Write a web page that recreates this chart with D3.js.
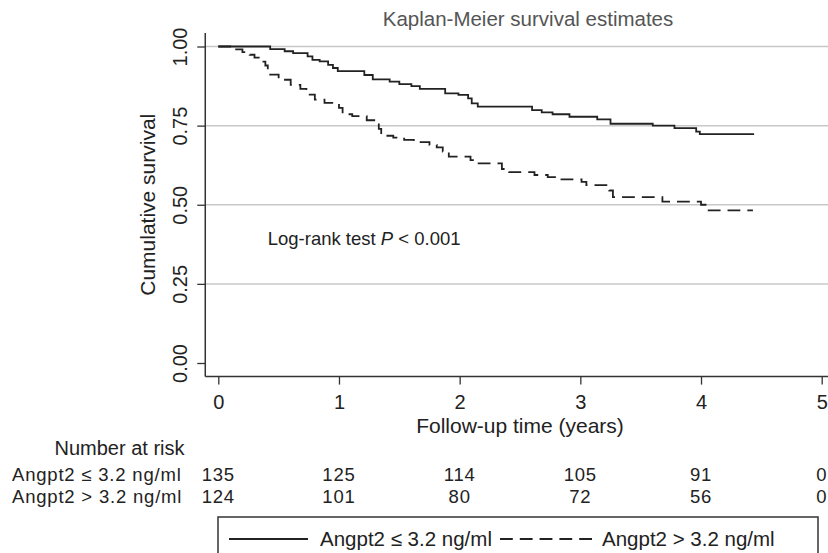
<!DOCTYPE html>
<html>
<head>
<meta charset="utf-8">
<script src="https://cdn.jsdelivr.net/npm/d3@7"></script>
<style>
  body { margin: 0; background: #fff; }
  text { font-family: "Liberation Sans", Arial, sans-serif; fill: #222; }
</style>
</head>
<body>
<div id="chart"></div>
<script>
// follow-up time (years) and survival for each group
const lowTime = [0,0.43,0.55,0.62,0.74,0.78,0.84,0.91,0.95,0.99,1.21,1.28,1.42,1.50,1.60,1.67,1.88,1.99,2.07,2.10,2.15,2.60,2.68,2.77,2.91,3.14,3.25,3.60,3.78,3.96,3.99,4.44];
const lowSurv = [1,0.992,0.985,0.979,0.969,0.958,0.953,0.942,0.932,0.922,0.91,0.896,0.889,0.881,0.875,0.866,0.852,0.847,0.836,0.820,0.81,0.799,0.792,0.786,0.778,0.77,0.756,0.75,0.742,0.731,0.723,0.723];

const highTime = [0,0.14,0.20,0.26,0.30,0.36,0.39,0.41,0.43,0.50,0.60,0.68,0.73,0.80,0.88,1.00,1.03,1.11,1.23,1.33,1.35,1.45,1.54,1.62,1.75,1.81,1.86,1.91,2.09,2.11,2.35,2.41,2.62,2.73,2.79,3.01,3.05,3.24,3.27,3.68,4.00,4.05,4.43];
const highSurv = [1,0.991,0.982,0.974,0.965,0.952,0.940,0.927,0.911,0.895,0.879,0.866,0.848,0.832,0.822,0.806,0.786,0.780,0.767,0.74,0.718,0.712,0.705,0.698,0.689,0.681,0.668,0.652,0.641,0.631,0.613,0.603,0.594,0.587,0.580,0.572,0.562,0.545,0.524,0.510,0.500,0.482,0.482];

const groupLabels = ["Angpt2 \u2264 3.2 ng/ml", "Angpt2 > 3.2 ng/ml"];
const riskTimes = [0, 1, 2, 3, 4, 5];
const riskLow = [135, 125, 114, 105, 91, 0];
const riskHigh = [124, 101, 80, 72, 56, 0];
const yTicks = [0, 0.25, 0.5, 0.75, 1];
const xTicks = [0, 1, 2, 3, 4, 5];

const W = 828, H = 553;

const svg = d3.select("#chart").append("svg")
	.attr("width", W)
	.attr("height", H);

const x = d3.scaleLinear().domain([0, 5]).range([218.3, 821.7]);
const y = d3.scaleLinear().domain([0, 1]).range([363, 46.5]);

const axisX = x(-0.108);   // where the y axis sits
const axisY = y(-0.043);   // where the x axis sits

// title
svg.append("text")
	.attr("x", 528).attr("y", 26)
	.attr("text-anchor", "middle")
	.style("font-size", "20.5px")
	.style("fill", "#555")
	.text("Kaplan-Meier survival estimates");

// grid lines
svg.append("g").selectAll("line")
	.data(yTicks.filter(d => d > 0))
	.join("line")
	.attr("x1", axisX).attr("x2", W)
	.attr("y1", d => y(d)).attr("y2", d => y(d))
	.attr("stroke", "#c8c8c8")
	.attr("stroke-width", 1.5);

// y axis
const yAxisG = svg.append("g")
	.attr("transform", `translate(${axisX},0)`)
	.call(d3.axisLeft(y).tickValues(yTicks).tickFormat(d3.format(".2f")).tickSize(8).tickSizeOuter(0));
yAxisG.select(".domain").remove();
yAxisG.selectAll(".tick line").attr("stroke", "#333").attr("stroke-width", 1.3);
yAxisG.selectAll(".tick text")
	.attr("transform", "rotate(-90)")
	.attr("x", 0).attr("y", -18).attr("dy", 0)
	.attr("text-anchor", "middle")
	.style("font-size", "20px")
	.style("font-family", "'Liberation Sans', Arial, sans-serif")
	.attr("fill", "#222");

// x axis
const xAxisG = svg.append("g")
	.attr("transform", `translate(0,${axisY})`)
	.call(d3.axisBottom(x).tickValues(xTicks).tickFormat(d3.format("d")).tickSize(8).tickSizeOuter(0));
xAxisG.select(".domain").remove();
xAxisG.selectAll(".tick line").attr("stroke", "#333").attr("stroke-width", 1.3);
xAxisG.selectAll(".tick text")
	.attr("y", 32).attr("dy", 0)
	.style("font-size", "20px")
	.style("font-family", "'Liberation Sans', Arial, sans-serif")
	.attr("fill", "#222");

// axis lines
svg.append("line")
	.attr("x1", axisX).attr("x2", axisX)
	.attr("y1", y(1.043)).attr("y2", axisY)
	.attr("stroke", "#333").attr("stroke-width", 1.5);
svg.append("line")
	.attr("x1", axisX).attr("x2", W)
	.attr("y1", axisY).attr("y2", axisY)
	.attr("stroke", "#333").attr("stroke-width", 1.5);

// axis titles
svg.append("text")
	.attr("transform", `translate(155,${y(0.5)}) rotate(-90)`)
	.attr("text-anchor", "middle")
	.style("font-size", "21px")
	.text("Cumulative survival");

svg.append("text")
	.attr("x", x(2.5)).attr("y", 433)
	.attr("text-anchor", "middle")
	.style("font-size", "21px")
	.text("Follow-up time (years)");

// survival curves
const line = d3.line()
	.x(d => x(d[0]))
	.y(d => y(d[1]))
	.curve(d3.curveStepAfter);

svg.append("path")
	.datum(d3.zip(lowTime, lowSurv))
	.attr("d", line)
	.attr("fill", "none")
	.attr("stroke", "#222")
	.attr("stroke-width", 1.8);

svg.append("path")
	.datum(d3.zip(highTime, highSurv))
	.attr("d", line)
	.attr("fill", "none")
	.attr("stroke", "#222")
	.attr("stroke-width", 1.8)
	.attr("stroke-dasharray", "12.8,7");

// log-rank annotation
const lr = svg.append("text")
	.attr("x", 267.7).attr("y", 245)
	.style("font-size", "18.5px");
lr.append("tspan").text("Log-rank test ");
lr.append("tspan").style("font-style", "italic").text("P");
lr.append("tspan").text(" < 0.001");

// number at risk table
svg.append("text")
	.attr("x", 119.5).attr("y", 455)
	.attr("text-anchor", "middle")
	.style("font-size", "20px")
	.text("Number at risk");

const riskRows = [riskLow, riskHigh];
const rowY = [481, 503];
riskRows.forEach((row, i) => {
	svg.append("text")
		.attr("x", 12).attr("y", rowY[i])
		.style("font-size", "18.5px")
		.style("letter-spacing", "0.8px")
		.text(groupLabels[i]);
	svg.append("g").selectAll("text")
		.data(row)
		.join("text")
		.attr("x", (d, j) => x(riskTimes[j]))
		.attr("y", rowY[i])
		.attr("text-anchor", "middle")
		.style("font-size", "18.5px")
		.style("letter-spacing", "0.8px")
		.text(d => d);
});

// legend
const leg = svg.append("g");
leg.append("rect")
	.attr("x", 218).attr("y", 517)
	.attr("width", 600).attr("height", 60)
	.attr("fill", "none")
	.attr("stroke", "#333")
	.attr("stroke-width", 1.5);
leg.append("line")
	.attr("x1", 229).attr("x2", 308).attr("y1", 539).attr("y2", 539)
	.attr("stroke", "#222").attr("stroke-width", 1.8);
leg.append("text")
	.attr("x", 320).attr("y", 546)
	.style("font-size", "20.5px")
	.text(groupLabels[0]);
leg.append("line")
	.attr("x1", 500).attr("x2", 592).attr("y1", 539).attr("y2", 539)
	.attr("stroke", "#222").attr("stroke-width", 1.8)
	.attr("stroke-dasharray", "12.8,7");
leg.append("text")
	.attr("x", 602).attr("y", 546)
	.style("font-size", "20.5px")
	.text(groupLabels[1]);
</script>
</body>
</html>
